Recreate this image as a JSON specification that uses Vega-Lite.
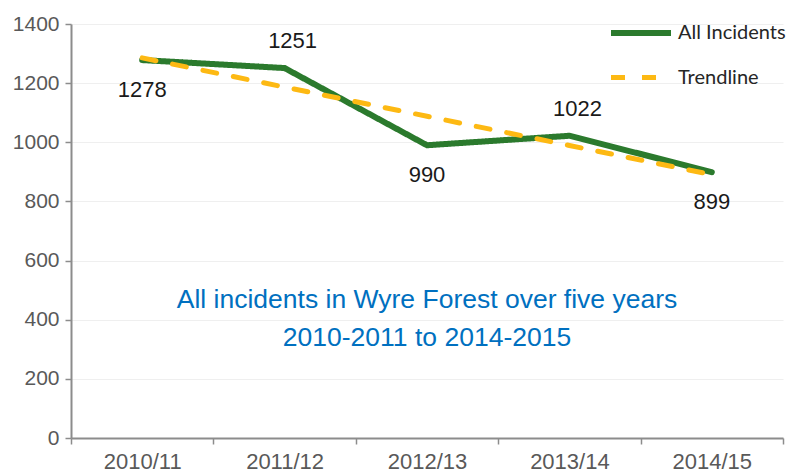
{
  "$schema": "https://vega.github.io/schema/vega-lite/v6.json",
  "width": 712,
  "height": 414,
  "autosize": {"type": "none"},
  "padding": {"left": 71, "top": 24, "right": 4, "bottom": 38},
  "background": "white",
  "config": {
    "view": {"stroke": null},
    "font": "Liberation Sans",
    "axis": {"labelFont": "Liberation Sans"},
    "text": {"font": "Liberation Sans"}
  },
  "datasets": {
    "series": [
      {"year": "2010/11", "series": "All Incidents", "value": 1278},
      {"year": "2011/12", "series": "All Incidents", "value": 1251},
      {"year": "2012/13", "series": "All Incidents", "value": 990},
      {"year": "2013/14", "series": "All Incidents", "value": 1022},
      {"year": "2014/15", "series": "All Incidents", "value": 899},
      {"year": "2010/11", "series": "Trendline", "value": 1285.4},
      {"year": "2011/12", "series": "Trendline", "value": 1186.7},
      {"year": "2012/13", "series": "Trendline", "value": 1088},
      {"year": "2013/14", "series": "Trendline", "value": 989.3},
      {"year": "2014/15", "series": "Trendline", "value": 890.6}
    ]
  },
  "data": {"name": "series"},
  "encoding": {
    "x": {
      "field": "year",
      "type": "ordinal",
      "bandPosition": 0.5,
      "scale": {"type": "band", "paddingInner": 0, "paddingOuter": 0},
      "axis": {
        "title": null,
        "labelAngle": 0,
        "labelFontSize": 22,
        "labelColor": "#595959",
        "labelPadding": 7,
        "domainColor": "#8c8c8c",
        "domainWidth": 2,
        "tickColor": "#8c8c8c",
        "tickWidth": 1.5,
        "tickSize": 6,
        "tickBand": "extent",
        "grid": false
      }
    },
    "y": {
      "field": "value",
      "type": "quantitative",
      "scale": {"domain": [0, 1400], "nice": false},
      "axis": {
        "title": null,
        "format": "d",
        "values": [0, 200, 400, 600, 800, 1000, 1200, 1400],
        "labelFontSize": 21,
        "labelColor": "#595959",
        "labelPadding": 6,
        "domainColor": "#8c8c8c",
        "domainWidth": 2,
        "tickColor": "#8c8c8c",
        "tickWidth": 1.5,
        "tickSize": 6,
        "gridColor": "#efefef",
        "gridWidth": 1
      }
    }
  },
  "layer": [
    {
      "mark": {"type": "line", "strokeCap": "round"},
      "encoding": {
        "color": {
          "field": "series",
          "type": "nominal",
          "scale": {"domain": ["All Incidents", "Trendline"], "range": ["#2b7a2d", "#fdb913"]},
          "legend": {
            "title": null,
            "orient": "none",
            "legendX": 537,
            "legendY": -24,
            "symbolType": "stroke",
            "symbolSize": 3600,
            "symbolStrokeWidth": 5,
            "labelFont": "Lato",
            "labelFontSize": 20,
            "labelColor": "#262626",
            "rowPadding": -18,
            "labelOffset": 4
          }
        },
        "strokeDash": {
          "field": "series",
          "type": "nominal",
          "scale": {"domain": ["All Incidents", "Trendline"], "range": [[1, 0], [14, 17]]},
          "legend": null
        },
        "strokeWidth": {
          "field": "series",
          "type": "nominal",
          "scale": {"domain": ["All Incidents", "Trendline"], "range": [6, 5]},
          "legend": null
        },
        "order": {"field": "series", "sort": "ascending"}
      }
    },
    {
      "transform": [{"filter": "datum.series === 'All Incidents' && (datum.year === '2011/12' || datum.year === '2013/14')"}],
      "mark": {"type": "text", "fontSize": 22, "color": "#1a1a1a", "dy": -27, "dx": 8},
      "encoding": {"text": {"field": "value", "type": "quantitative"}}
    },
    {
      "transform": [{"filter": "datum.series === 'All Incidents' && (datum.year === '2010/11' || datum.year === '2012/13' || datum.year === '2014/15')"}],
      "mark": {"type": "text", "fontSize": 22, "color": "#1a1a1a", "dy": 30, "dx": 0},
      "encoding": {"text": {"field": "value", "type": "quantitative"}}
    },
    {
      "data": {"values": [{"year": "2012/13", "value": 467}]},
      "mark": {
        "type": "text",
        "fontSize": 26.5,
        "color": "#0070c0",
        "align": "center",
        "baseline": "middle",
        "lineHeight": 38,
        "text": ["All incidents in Wyre Forest over five years", "2010-2011 to 2014-2015"]
      },
      "encoding": {}
    }
  ]
}
